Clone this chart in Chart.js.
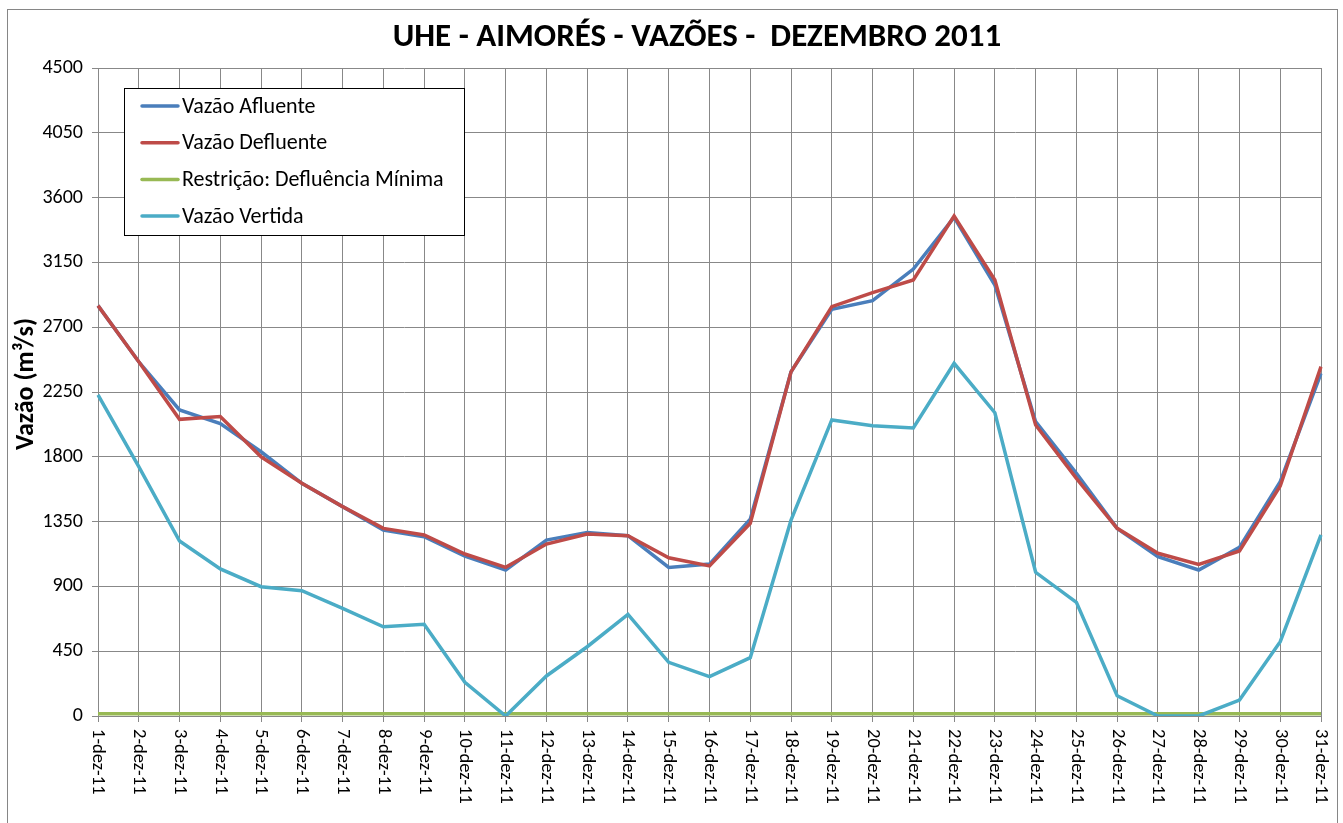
<!DOCTYPE html>
<html>
<head>
<meta charset="utf-8">
<script src="https://cdn.jsdelivr.net/npm/chart.js@4.4.0/dist/chart.umd.min.js"></script>
<style>
  html, body { margin: 0; padding: 0; background: #fff; }
  #wrap { width: 1343px; height: 823px; position: relative; }
</style>
</head>
<body>
<div id="wrap"><canvas id="vazoesChart"></canvas></div>
<script>
const dias = [
  "1-dez-11", "2-dez-11", "3-dez-11", "4-dez-11", "5-dez-11", "6-dez-11", "7-dez-11", "8-dez-11",
  "9-dez-11", "10-dez-11", "11-dez-11", "12-dez-11", "13-dez-11", "14-dez-11", "15-dez-11", "16-dez-11",
  "17-dez-11", "18-dez-11", "19-dez-11", "20-dez-11", "21-dez-11", "22-dez-11", "23-dez-11", "24-dez-11",
  "25-dez-11", "26-dez-11", "27-dez-11", "28-dez-11", "29-dez-11", "30-dez-11", "31-dez-11",
];
const vazaoAfluente = [
  2850, 2460, 2125, 2030, 1835, 1616, 1454, 1292, 1245, 1111, 1014, 1222, 1275, 1252, 1032, 1055,
  1366, 2390, 2824, 2884, 3104, 3463, 2993, 2044, 1685, 1303, 1106, 1014, 1171, 1627, 2380,
];
const vazaoDefluente = [
  2850, 2460, 2060, 2079, 1800, 1616, 1454, 1303, 1257, 1125, 1032, 1194, 1264, 1252, 1099, 1042,
  1338, 2390, 2843, 2940, 3028, 3472, 3028, 2021, 1650, 1303, 1130, 1053, 1146, 1597, 2426,
];
const defluenciaMinima = [
  15, 15, 15, 15, 15, 15, 15, 15, 15, 15, 15, 15, 15, 15, 15, 15,
  15, 15, 15, 15, 15, 15, 15, 15, 15, 15, 15, 15, 15, 15, 15,
];
const vazaoVertida = [
  2230, 1731, 1215, 1021, 898, 870, 748, 620, 637, 234, 0, 278, 481, 706, 373, 273,
  405, 1360, 2056, 2016, 2000, 2449, 2106, 998, 789, 141, 0, 0, 111, 516, 1257,
];
const yMin = 0, yMax = 4500, yStep = 450;
const titulo = "UHE - AIMORÉS - VAZÕES -  DEZEMBRO 2011";
const tituloEixoY = "Vazão (m³/s)";

const FONT = "Carlito, Calibri, Lato, sans-serif";
const gridColor = "#888888";

// textos, legenda e moldura desenhados por cima do gráfico
const decoracao = {
  id: "decoracao",
  afterDraw(chart) {
    const ctx = chart.ctx;
    const xs = chart.scales.x;
    const area = chart.chartArea;
    ctx.save();

    // moldura externa
    ctx.strokeStyle = "#868686";
    ctx.lineWidth = 1;
    ctx.strokeRect(7.5, 9.5, 1330, 840);

    // título
    ctx.fillStyle = "#000";
    ctx.font = "bold 33px " + FONT;
    ctx.textAlign = "center";
    ctx.textBaseline = "middle";
    ctx.fillText(titulo, 697, 38);

    // título do eixo Y
    ctx.save();
    ctx.translate(26, 384);
    ctx.rotate(-Math.PI / 2);
    ctx.font = "bold 26px " + FONT;
    ctx.fillText(tituloEixoY, 0, 0);
    ctx.restore();

    // rótulos do eixo X, girados 90°
    ctx.font = "18.5px " + FONT;
    ctx.textAlign = "left";
    ctx.textBaseline = "middle";
    dias.forEach((d, i) => {
      const x = xs.getPixelForValue(i);
      ctx.save();
      ctx.translate(x, area.bottom + 13);
      ctx.rotate(Math.PI / 2);
      ctx.fillText(d, 0, 0);
      ctx.restore();
    });

    // legenda
    const lx = 124.5, ly = 88.5, lw = 340, lh = 147;
    ctx.fillStyle = "#fff";
    ctx.fillRect(lx, ly, lw, lh);
    ctx.strokeStyle = "#000";
    ctx.strokeRect(lx, ly, lw, lh);
    ctx.font = "22px " + FONT;
    ctx.textAlign = "left";
    chart.data.datasets.forEach((ds, i) => {
      const y = 106 + i * 36.7;
      ctx.strokeStyle = ds.borderColor;
      ctx.lineWidth = 3.5;
      ctx.lineCap = "round";
      ctx.beginPath();
      ctx.moveTo(142, y);
      ctx.lineTo(178, y);
      ctx.stroke();
      ctx.fillStyle = "#000";
      ctx.fillText(ds.label, 182, y + 1);
    });
    ctx.restore();
  },
};

new Chart(document.getElementById("vazoesChart"), {
  type: "line",
  data: {
    labels: dias,
    datasets: [
      { label: "Vazão Afluente", data: vazaoAfluente, borderColor: "#4a7ebb", order: 3 },
      { label: "Vazão Defluente", data: vazaoDefluente, borderColor: "#be4b48", order: 2 },
      { label: "Restrição: Defluência Mínima", data: defluenciaMinima, borderColor: "#98b954", order: 1 },
      { label: "Vazão Vertida", data: vazaoVertida, borderColor: "#4bacc6", order: 0 },
    ],
  },
  options: {
    responsive: true,
    maintainAspectRatio: false,
    animation: false,
    devicePixelRatio: 1,
    datasets: {
      line: {
        borderWidth: 3.5,
        pointRadius: 0,
        tension: 0,
        fill: false,
        backgroundColor: "transparent",
      },
    },
    layout: { padding: { top: 68, right: 22, left: 0, bottom: 0 } },
    plugins: {
      legend: { display: false },
      title: { display: false },
      tooltip: { enabled: false },
    },
    scales: {
      x: {
        type: "category",
        offset: false,
        ticks: { display: false, autoSkip: false },
        grid: { color: gridColor, lineWidth: 1, drawTicks: true, tickLength: 6 },
        border: { color: gridColor },
        afterFit(scale) { scale.height = 107; },
      },
      y: {
        min: yMin,
        max: yMax,
        ticks: {
          stepSize: yStep,
          color: "#000",
          padding: 9,
          font: { family: FONT, size: 20 },
          callback: (v) => String(v),
        },
        grid: { color: gridColor, lineWidth: 1, drawTicks: true, tickLength: 6 },
        border: { color: gridColor },
        afterFit(scale) { scale.width = 98; },
      },
    },
  },
  plugins: [decoracao],
});
</script>
</body>
</html>
